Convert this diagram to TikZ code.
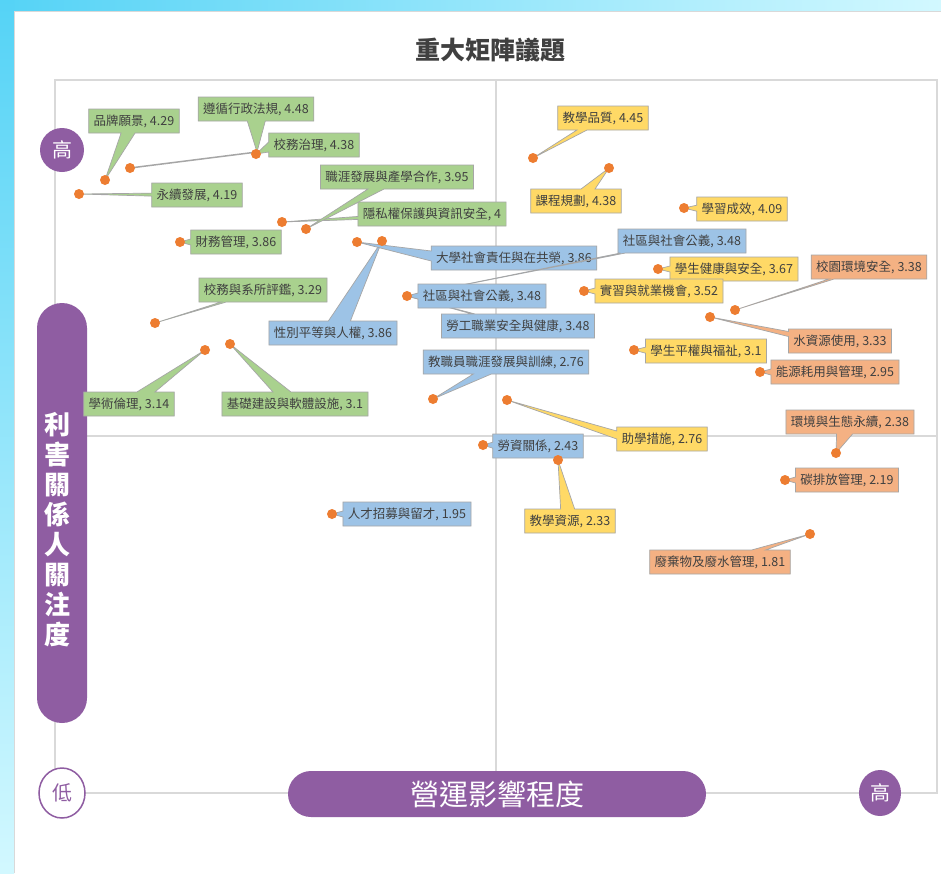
\documentclass[tikz,border=0pt]{standalone}
\usepackage{fontspec}
\setmainfont{Noto Sans CJK TC}
\usepackage{xcolor}
\usetikzlibrary{shapes.callouts, shapes.geometric}
\pgfdeclarelayer{ft}
\pgfdeclarelayer{bg}
\pgfsetlayers{bg,main,ft}
\definecolor{grn}{HTML}{A9D18E}
\definecolor{blu}{HTML}{9DC3E6}
\definecolor{yel}{HTML}{FFD966}
\definecolor{org}{HTML}{F4B183}
\definecolor{dotc}{HTML}{ED7D31}
\definecolor{purp}{HTML}{8F5DA2}
\definecolor{gridc}{HTML}{D9D9D9}
\definecolor{txt}{HTML}{404040}
\definecolor{edge}{HTML}{A6A6A6}
\definecolor{sky}{HTML}{55D3F6}
\definecolor{skylt}{HTML}{D2F8FF}

\tikzset{
	lbl/.style={rectangle callout, fill=#1, draw=edge, line width=0.7pt, text=txt,
		font=\fontsize{12.5}{14}\selectfont, inner xsep=5pt, inner ysep=0pt,
		minimum height=24pt, callout pointer width=6pt},
	ball/.style={circle, fill=dotc, inner sep=0pt, minimum size=10pt},
	pill/.style={fill=purp, text=white, inner sep=0pt},
}

\begin{document}
\begin{tikzpicture}[x=1pt, y=-1pt]
	\useasboundingbox (0,0) rectangle (941,873);
	\begin{pgfonlayer}{bg}
		% backdrop
		\shade[left color=sky, right color=skylt] (0,0) rectangle (941,11);
		\shade[top color=sky, bottom color=skylt] (0,0) rectangle (14,873);
		\fill[white] (14,11) rectangle (941,873);
		\draw[gridc, line width=1pt] (14.5,873) -- (14.5,11.5) -- (941,11.5);
		% quadrants
		\draw[gridc, line width=1.5pt] (55,80) rectangle (937,793);
		\draw[gridc, line width=1.5pt] (496,80) -- (496,793);
		\draw[gridc, line width=1.5pt] (55,436) -- (937,436);
	\end{pgfonlayer}

	\node[text=txt, font=\fontsize{25}{25}\selectfont\bfseries] (title) at (490,50) {重大矩陣議題};

	% axes
	\node[pill, circle, minimum size=44pt, font=\fontsize{20}{20}\selectfont] (yhi) at (62,150) {高};
	\node[pill, rounded corners=25pt, minimum width=50pt, minimum height=420pt] (ybar) at (62,513) {};
	\node[text=white, font=\fontsize{26}{30}\selectfont\bfseries, align=center] (ytxt) at (57,530)
		{利\\害\\關\\係\\人\\關\\注\\度};
	\node[ellipse, draw=purp, line width=1.5pt, fill=white, text=purp, inner sep=0pt,
		minimum width=46pt, minimum height=50pt, font=\fontsize{20}{20}\selectfont] (xlo) at (62,793) {低};
	\node[pill, rounded corners=23pt, minimum width=418pt, minimum height=46pt,
		font=\fontsize{29}{29}\selectfont] (xbar) at (497,794) {營運影響程度};
	\node[pill, ellipse, minimum width=42pt, minimum height=46pt,
		font=\fontsize{20}{20}\selectfont] (xhi) at (880,793) {高};

	% data points
	\begin{pgfonlayer}{ft}
		\foreach \n/\x/\y in {1/105/180, 2/130/168, 3/256/154, 4/79/194, 5/180/242, 6/306/229,
			7/282/222, 8/155/323, 9/205/350, 10/230/344, 11/357/242, 12/382/241, 13/407/296,
			14/433/399, 15/483/445, 16/332/514, 17/533/158, 18/609/168, 19/684/208, 20/658/269,
			21/584/291, 22/634/350, 23/507/400, 24/558/460, 25/735/310, 26/710/317, 27/760/372,
			28/836/453, 29/785/480, 30/810/534}
			\node[ball] (d\n) at (\x,\y) {};
	\end{pgfonlayer}

	% green
	\coordinate (j2) at (257,152);
	\draw[edge, line width=1.5pt] (d2.center) -- (j2);
	\node[lbl=grn, callout absolute pointer=(d1.center), callout pointer width=14pt] (l1) at (134,121) {品牌願景, 4.29};
	\node[lbl=grn, callout absolute pointer=(j2), callout pointer width=18pt] (l2) at (256,109) {遵循行政法規, 4.48};
	\node[lbl=grn, callout absolute pointer=(d3.center), callout pointer width=10pt] (l3) at (314,145) {校務治理, 4.38};
	\node[lbl=grn, callout absolute pointer=(d4.center), callout pointer width=3pt] (l4) at (197,195) {永續發展, 4.19};
	\node[lbl=grn, callout absolute pointer=(d5.center)] (l5) at (236,242) {財務管理, 3.86};
	\node[lbl=grn, callout absolute pointer=(d7.center), callout pointer width=3pt] (l7) at (432,214) {隱私權保護與資訊安全, 4};
	\node[lbl=grn, callout absolute pointer=(d6.center), callout pointer width=16pt] (l6) at (397,177) {職涯發展與產學合作, 3.95};
	\node[lbl=grn, callout absolute pointer=(d8.center), callout pointer width=5pt] (l8) at (263,290) {校務與系所評鑑, 3.29};
	\node[lbl=grn, callout absolute pointer=(d9.center), callout pointer width=18pt] (l9) at (129,404) {學術倫理, 3.14};
	\node[lbl=grn, callout absolute pointer=(d10.center), callout pointer width=18pt] (l10) at (295,404) {基礎建設與軟體設施, 3.1};

	% blue
	\node[lbl=blu, callout absolute pointer=(d12.center), callout pointer width=22pt] (l12) at (333,333) {性別平等與人權, 3.86};
	\node[lbl=blu, callout absolute pointer=(d11.center), callout pointer width=10pt] (l11) at (514,258) {大學社會責任與在共榮, 3.86};
	\node[lbl=blu, callout absolute pointer=(d13.center), callout pointer width=5pt] (l13) at (682,241) {社區與社會公義, 3.48};
	\node[lbl=blu, callout absolute pointer=(d13.center), callout pointer width=3pt] (l14) at (518,326) {勞工職業安全與健康, 3.48};
	\node[lbl=blu, callout absolute pointer=(d13.center)] (l13b) at (482,296) {社區與社會公義, 3.48};
	\node[lbl=blu, callout absolute pointer=(d14.center), callout pointer width=18pt] (l15) at (506,362) {教職員職涯發展與訓練, 2.76};
	\node[lbl=blu, callout absolute pointer=(d15.center)] (l16) at (538,446) {勞資關係, 2.43};
	\node[lbl=blu, callout absolute pointer=(d16.center)] (l17) at (407,514) {人才招募與留才, 1.95};

	% yellow
	\node[lbl=yel, callout absolute pointer=(d17.center), callout pointer width=10pt] (l18) at (603,118) {教學品質, 4.45};
	\node[lbl=yel, callout absolute pointer=(d18.center), callout pointer width=14pt] (l19) at (576,201) {課程規劃, 4.38};
	\node[lbl=yel, callout absolute pointer=(d19.center)] (l20) at (742,209) {學習成效, 4.09};
	\node[lbl=yel, callout absolute pointer=(d20.center)] (l21) at (734,269) {學生健康與安全, 3.67};
	\node[lbl=yel, callout absolute pointer=(d21.center)] (l22) at (659,291) {實習與就業機會, 3.52};
	\node[lbl=yel, callout absolute pointer=(d22.center)] (l23) at (706,351) {學生平權與福祉, 3.1};
	\node[lbl=yel, callout absolute pointer=(d23.center), callout pointer width=8pt] (l24) at (662,439) {助學措施, 2.76};
	\node[lbl=yel, callout absolute pointer=(d24.center), callout pointer width=14pt] (l25) at (570,521) {教學資源, 2.33};

	% orange
	\node[lbl=org, callout absolute pointer=(d25.center), callout pointer width=5pt] (l26) at (869,267) {校園環境安全, 3.38};
	\node[lbl=org, callout absolute pointer=(d26.center), callout pointer width=5pt] (l27) at (840,341) {水資源使用, 3.33};
	\node[lbl=org, callout absolute pointer=(d27.center)] (l28) at (835,372) {能源耗用與管理, 2.95};
	\node[lbl=org, callout absolute pointer=(d28.center), callout pointer width=16pt] (l29) at (850,422) {環境與生態永續, 2.38};
	\node[lbl=org, callout absolute pointer=(d29.center)] (l30) at (847,480) {碳排放管理, 2.19};
	\node[lbl=org, callout absolute pointer=(d30.center), callout pointer width=14pt] (l31) at (720,562) {廢棄物及廢水管理, 1.81};
\end{tikzpicture}
\end{document}
